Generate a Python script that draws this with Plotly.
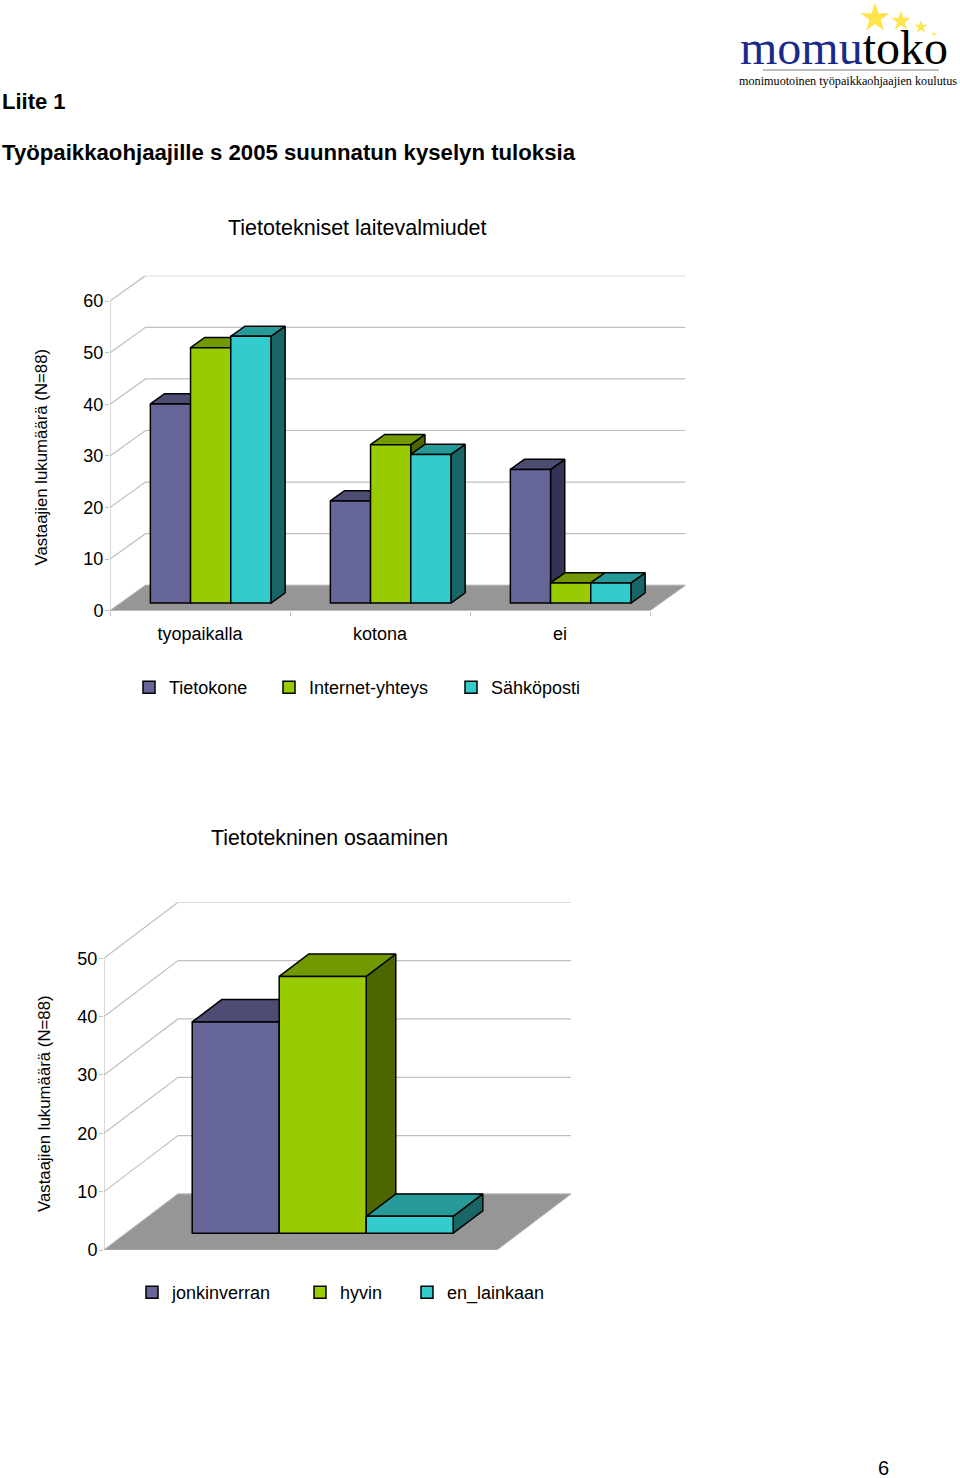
import plotly.graph_objects as go

# ---------- data ----------
cats1 = ["tyopaikalla", "kotona", "ei"]
series1 = ["Tietokone", "Internet-yhteys", "Sähköposti"]
tietokone = [38.6, 19.8, 25.9]
internet = [49.5, 30.7, 3.9]
sahkoposti = [51.7, 28.8, 3.9]
ticks1 = [0, 10, 20, 30, 40, 50, 60]

series2 = ["jonkinverran", "hyvin", "en_lainkaan"]
osaaminen = [36.2, 44.0, 2.9]
ticks2 = [0, 10, 20, 30, 40, 50]

FRONT = ["#666699", "#99CC00", "#33CCCC"]
TOP = ["#4D4D73", "#739900", "#269999"]
SIDE = ["#333355", "#4D6600", "#1A6666"]
FONT = "Liberation Sans"
W, H = 960, 1478

fig = go.Figure()
annotations = []
layout_axes = {}
legends = {}


def px(x):
    return x / W


def py(y):
    return 1 - y / H


def note(text, x, y, size, anchor="left", angle=0, family=FONT):
    annotations.append(dict(text=text, x=px(x), y=py(y), xref="paper", yref="paper",
                            xanchor=anchor, yanchor="middle", showarrow=False, textangle=angle,
                            borderpad=0, borderwidth=0,
                            font=dict(family=family, size=size, color="#000000")))


def poly(xs, ys, fill, ax, line="#000000", width=1.5):
    fig.add_trace(go.Scatter(x=xs, y=ys, mode="lines", fill="toself", fillcolor=fill,
                             line=dict(color=line, width=width), showlegend=False, hoverinfo="skip",
                             xaxis=ax[0], yaxis=ax[1]))


def chart(values, names, cats, ticks, idx, left, right, bottom, scale, dx_px, dy_px, unit_px, bar_px,
          legend_pos, legend_y, show_xticks):
    """values: one list per series; left/right: front wall in px; bottom: pixel of value 0."""
    DX = dx_px / unit_px
    DY = dy_px / scale
    n = len(cats)
    x0, x1 = -0.5, n - 0.5
    top_value = ticks[-1] + DY
    top_px = bottom - top_value * scale
    xdom = [px(left), px(right + dx_px)]
    ydom = [py(bottom), py(top_px)]
    a, b = 2 * idx - 1, 2 * idx
    base_ax = ("x" if a == 1 else f"x{a}", "y" if a == 1 else f"y{a}")
    over_ax = (f"x{b}", f"y{b}")
    aname = lambda i: "axis" if i == 1 else f"axis{i}"
    tickfont = dict(family=FONT, size=18, color="#000000")
    layout_axes["x" + aname(a)] = dict(
        domain=xdom, range=[x0, x1 + DX], anchor=base_ax[1], showgrid=False, zeroline=False, showline=False,
        tickmode="array", tickvals=list(range(n)), ticktext=cats, ticks="", tickfont=tickfont,
        showticklabels=show_xticks, ticklabelstandoff=10,
        minor=dict(tickmode="array", tickvals=[i - 0.5 for i in range(n + 1)] if show_xticks else [],
                   ticks="outside", ticklen=4, tickcolor="#C0C0C0", showgrid=False))
    layout_axes["y" + aname(a)] = dict(
        domain=ydom, range=[0, top_value], anchor=base_ax[0], showgrid=False, zeroline=False, showline=False,
        tickmode="array", tickvals=ticks, ticks="outside", ticklen=4, tickcolor="#C0C0C0", tickfont=tickfont,
        ticklabelstandoff=-2)
    layout_axes["x" + aname(b)] = dict(domain=xdom, range=[x0, x1 + DX], overlaying=base_ax[0], anchor=over_ax[1],
                                       visible=False)
    layout_axes["y" + aname(b)] = dict(domain=ydom, range=[0, top_value], overlaying=base_ax[1], anchor=over_ax[0],
                                       visible=False)

    # walls: side-wall diagonals and back-wall lines
    for v in ticks:
        fig.add_trace(go.Scatter(x=[x0, x0 + DX, x1 + DX], y=[v, v + DY, v + DY], mode="lines",
                                 line=dict(color="#C0C0C0", width=1.2), showlegend=False, hoverinfo="skip",
                                 xaxis=base_ax[0], yaxis=base_ax[1]))
    fig.add_trace(go.Scatter(x=[x0, x0], y=[0, ticks[-1]], mode="lines", line=dict(color="#C0C0C0", width=1.2),
                             showlegend=False, hoverinfo="skip", xaxis=base_ax[0], yaxis=base_ax[1]))
    # floor
    poly([x0, x0 + DX, x1 + DX, x1, x0], [0, DY, DY, 0, 0], "#969696", base_ax, line="#B4B4B4", width=1)

    # bars: tops and sides beneath, fronts above
    w = bar_px / unit_px
    ns = len(values)
    f, d = 0.3, 0.4
    base = f * DY
    for c in range(n):
        for s in range(ns):
            v = values[s][c]
            xl = c + f * DX + (s - ns / 2) * w
            xr = xl + w
            poly([xr, xr + d * DX, xr + d * DX, xr, xr],
                 [base, base + d * DY, base + v + d * DY, base + v, base], SIDE[s], base_ax)
            poly([xl, xl + d * DX, xr + d * DX, xr, xl],
                 [base + v, base + v + d * DY, base + v + d * DY, base + v, base + v], TOP[s], base_ax)
    for s in range(ns):
        lname = f"legend{'' if idx == 1 and s == 0 else (idx - 1) * 3 + s + 1}"
        fig.add_trace(go.Bar(
            x=[c + f * DX + (s - ns / 2 + 0.5) * w for c in range(n)], y=values[s], base=base, width=w,
            name=names[s], marker=dict(color=FRONT[s], line=dict(color="#000000", width=1.5)),
            xaxis=over_ax[0], yaxis=over_ax[1], legend=lname, showlegend=True, hoverinfo="skip"))
        legends[lname] = dict(x=px(legend_pos[s]), y=py(legend_y), xanchor="left", yanchor="middle",
                              bgcolor="rgba(0,0,0,0)", borderwidth=0,
                              font=dict(family=FONT, size=18, color="#000000"))


chart([tietokone, internet, sahkoposti], series1, cats1, ticks1, 1, 110, 650, 610.7, 5.16, 35.5, 25.4, 180, 40.2,
      [129, 269, 451], 687.5, True)
chart([[v] for v in osaaminen], series2, [""], ticks2, 2, 104, 497, 1250, 5.836, 74, 56, 393, 87,
      [132, 300, 407], 1292.5, False)

# page decoration: logo stars and rule
star_x = [875, 901, 921, 934]
star_y = [18, 21, 27, 34]
star_size = [22, 15, 10, 4]
layout_axes["xaxis9"] = dict(domain=[0, 1], range=[0, W], visible=False, anchor="y9")
layout_axes["yaxis9"] = dict(domain=[0, 1], range=[H, 0], visible=False, anchor="x9")
fig.add_trace(go.Scatter(x=star_x, y=star_y, mode="markers", xaxis="x9", yaxis="y9", showlegend=False,
                         hoverinfo="skip", marker=dict(symbol="star", size=star_size, color="#FFD800",
                                                       line=dict(width=0))))
fig.add_trace(go.Scatter(x=[763, 939], y=[70, 70], mode="lines", xaxis="x9", yaxis="y9", showlegend=False,
                         hoverinfo="skip", line=dict(color="#808080", width=1)))

# texts
note("<b>Liite 1</b>", 2, 102, 22)
note("<b>Työpaikkaohjaajille s 2005 suunnatun kyselyn tuloksia</b>", 2, 152, 22.2)
note("Tietotekniset laitevalmiudet", 357, 228, 21.5, "center")
note("Tietotekninen osaaminen", 329.5, 838, 21.3, "center")
note("Vastaajien lukumäärä (N=88)", 41, 457.5, 16.8, "center", -90)
note("Vastaajien lukumäärä (N=88)", 44, 1104, 16.8, "center", -90)
note("6", 883, 1468, 20, "center")
note('<span style="color:#1A2A8A">momu</span>toko', 740, 47, 48, family="Liberation Serif")
note("monimuotoinen työpaikkaohjaajien koulutus", 739, 81, 12.2, family="Liberation Serif")

fig.update_layout(width=W, height=H, margin=dict(l=0, r=0, t=0, b=0, autoexpand=False), paper_bgcolor="#FFFFFF",
                  plot_bgcolor="rgba(0,0,0,0)", barmode="overlay", annotations=annotations, hovermode=False,
                  **layout_axes, **legends)
fig.write_html("out.html", post_script="document.body.style.margin='0';", config={"displayModeBar": False})
